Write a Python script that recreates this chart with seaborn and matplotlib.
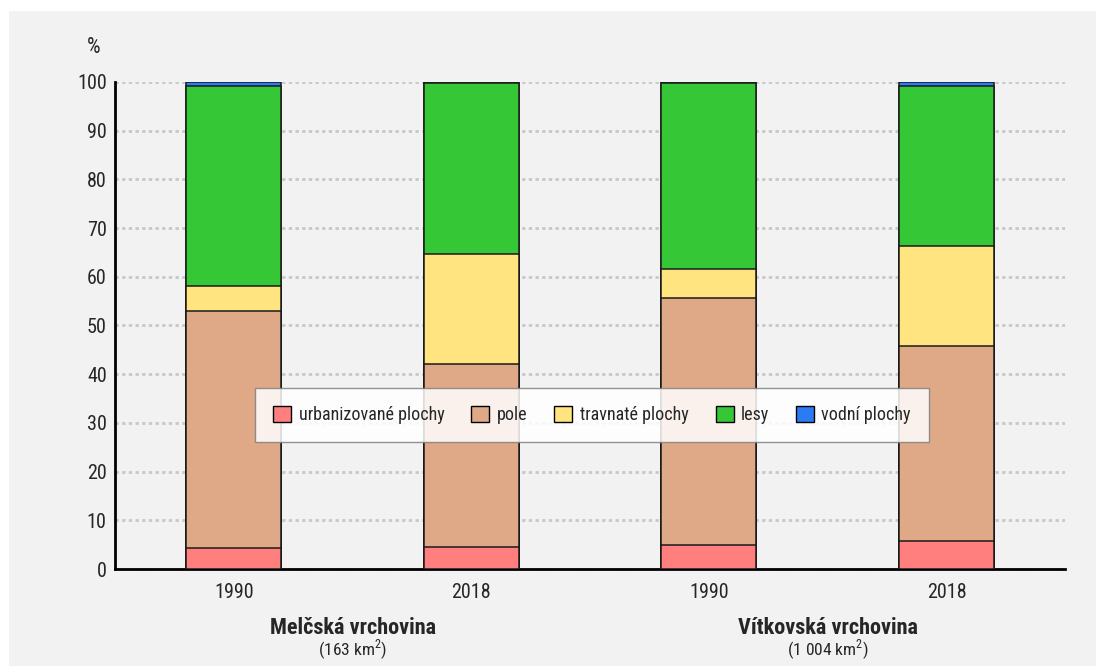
import pandas as pd
import numpy as np
import matplotlib
matplotlib.use('Agg')
import matplotlib.pyplot as plt
import seaborn as sns
from matplotlib.patches import Patch, Rectangle
from matplotlib import font_manager

# data
bar_ids = ['M1990', 'M2018', 'V1990', 'V2018']
years = ['1990', '2018', '1990', '2018']
urbanizovane = [4.3, 4.5, 4.9, 5.7]
pole = [48.7, 37.6, 50.7, 40.1]
travnate = [5.1, 22.6, 6.0, 20.5]
lesy = [41.1, 35.1, 38.2, 32.9]
vodni = [0.8, 0.2, 0.2, 0.8]

layer_names = ['urbanizované plochy', 'pole', 'travnaté plochy', 'lesy', 'vodní plochy']
layer_colors = ['#ff7f7f', '#dfa987', '#ffe480', '#36c736', '#2b7bf5']
regions = ['Melčská vrchovina', 'Vítkovská vrchovina']
areas = ['(163 km$^2$)', '(1 004 km$^2$)']

df = pd.DataFrame({'bar': bar_ids,
                   'urbanizované plochy': urbanizovane,
                   'pole': pole,
                   'travnaté plochy': travnate,
                   'lesy': lesy,
                   'vodní plochy': vodni})

sns.set_theme(style='white')
installed = {f.name for f in font_manager.fontManager.ttflist}
narrow = [f for f in ['Liberation Sans Narrow', 'Roboto Condensed', 'Open Sans Condensed',
                      'Noto Sans Condensed', 'DejaVu Sans Condensed'] if f in installed]
fam = narrow[:1] if narrow else ['Roboto']
condensed = bool(narrow)
plt.rcParams['font.family'] = fam + ['DejaVu Sans']
plt.rcParams['mathtext.fontset'] = 'custom'
plt.rcParams['mathtext.rm'] = fam[0]

fs = 14.5 if condensed else 12.5

fig = plt.figure(figsize=(10.96, 6.66), dpi=100, facecolor='white')
fig.patches.append(Rectangle((9 / 1096, 0), 1, 1 - 11 / 666, transform=fig.transFigure,
                             facecolor='#f2f2f2', edgecolor='none', zorder=-10))
ax = fig.add_axes([0.105, 0.1456, 0.867, 0.7314])
ax.set_facecolor('#f2f2f2')

# stacked bars: draw cumulative totals from top layer down
cum = df[layer_names].cumsum(axis=1)
for name, color in reversed(list(zip(layer_names, layer_colors))):
    sns.barplot(x=df['bar'], y=cum[name], order=bar_ids, color=color, width=0.4,
                edgecolor='#1a1a1a', linewidth=1.1, saturation=1, ax=ax, zorder=3)

ax.set_ylim(0, 100)
ax.set_xlim(-0.5, 3.5)
ax.set_yticks(range(0, 101, 10))
ax.set_yticklabels([str(v) for v in range(0, 101, 10)], fontsize=fs)
ax.yaxis.grid(True, linestyle=(0, (1.2, 1.2)), color='#c8c8c8', linewidth=2, zorder=0)
ax.set_axisbelow(True)
ax.set_xlabel('')
ax.set_ylabel('')

ax.set_xticks([-0.5, 0.5, 1.5, 2.5, 3.5])
ax.set_xticklabels([])
ax.set_xticks(range(4), minor=True)
ax.set_xticklabels(years, minor=True, fontsize=fs)
ax.tick_params(axis='x', which='major', length=8, width=1.5, color='black', direction='out')
ax.tick_params(axis='x', which='minor', length=0, pad=10)
ax.tick_params(axis='y', length=0, pad=6)

for side in ['top', 'right']:
    ax.spines[side].set_visible(False)
ax.spines['left'].set_color('black')
ax.spines['left'].set_linewidth(2)
ax.spines['bottom'].set_color('black')
ax.spines['bottom'].set_linewidth(2)

ax.text(-0.015, 1.07, '%', transform=ax.transAxes, fontsize=fs + 1, ha='right', va='center')

for i, (reg, area) in enumerate(zip(regions, areas)):
    xc = 0.5 + 2 * i
    ax.text(xc, -0.121, reg, transform=ax.get_xaxis_transform(), ha='center', va='center',
            fontsize=fs + 1.5, fontweight='bold')
    ax.text(xc, -0.166, area, transform=ax.get_xaxis_transform(), ha='center', va='center',
            fontsize=fs - 2)

handles = [Patch(facecolor=c, edgecolor='black', linewidth=1) for c in layer_colors]
leg = ax.legend(handles, layer_names, ncol=5, loc='center', bbox_to_anchor=(0.502, 0.316),
                fontsize=fs - 1.5, frameon=True, fancybox=False, handlelength=1.0,
                handleheight=1.0, columnspacing=1.5 if condensed else 1.2,
                handletextpad=0.4, borderpad=1.0, borderaxespad=0)
leg.get_frame().set_facecolor('white')
leg.get_frame().set_alpha(0.85)
leg.get_frame().set_edgecolor('#808080')
leg.set_zorder(5)

fig.savefig('out.png', dpi=100, facecolor='white')
